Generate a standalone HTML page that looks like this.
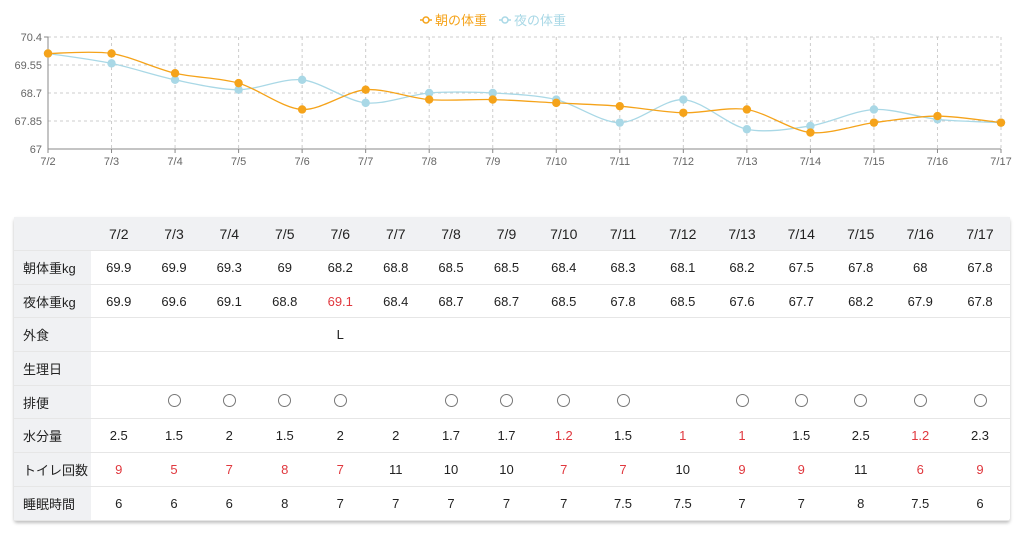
<!DOCTYPE html>
<html><head><meta charset="utf-8">
<style>
body{margin:0;width:1024px;height:533px;background:#fff;overflow:hidden;font-family:"Liberation Sans","Noto Sans CJK JP",sans-serif;}
#chart{position:absolute;left:0;top:0;}
#tbl{position:absolute;left:14px;top:217px;width:996px;border-collapse:collapse;table-layout:fixed;font-size:13px;color:#222;box-shadow:0 2px 3px rgba(0,0,0,0.25);border-radius:3px;}
#tbl td,#tbl th{text-align:center;border-bottom:1px solid #e6e6e6;padding:0;height:32.7px;}
#tbl thead th{background:#f0f1f3;font-weight:normal;height:33px;font-size:14px;}
#tbl td.h{background:#f0f1f3;text-align:left;padding-left:9px;}
.r{color:#e0383e;}
.o{display:inline-block;width:11px;height:11px;border:1px solid #777;border-radius:50%;}
</style></head><body>
<svg id="chart" width="1024" height="170"></svg>
<table id="tbl">
<colgroup id="cg"></colgroup>
<thead><tr id="hdr"></tr></thead>
<tbody id="body"></tbody>
</table>
<script>
const dates=["7/2","7/3","7/4","7/5","7/6","7/7","7/8","7/9","7/10","7/11","7/12","7/13","7/14","7/15","7/16","7/17"];
const morning=[69.9,69.9,69.3,69,68.2,68.8,68.5,68.5,68.4,68.3,68.1,68.2,67.5,67.8,68,67.8];
const night=[69.9,69.6,69.1,68.8,69.1,68.4,68.7,68.7,68.5,67.8,68.5,67.6,67.7,68.2,67.9,67.8];
const yTicks=[67,67.85,68.7,69.55,70.4];
const NS="http://www.w3.org/2000/svg";
const svg=document.getElementById('chart');
const x0=48,x1=1001,yTop=37,yBot=149,yMin=67,yMax=70.4;
const xs=i=>x0+i*(x1-x0)/(dates.length-1);
const ys=v=>yBot-(v-yMin)/(yMax-yMin)*(yBot-yTop);
function mk(t,a){const e=document.createElementNS(NS,t);for(const k in a)e.setAttribute(k,a[k]);svg.appendChild(e);return e;}
yTicks.forEach((t,i)=>{
 if(i>0){const g=mk('line',{x1:x0,x2:x1,y1:ys(t),y2:ys(t),stroke:'#ccc','stroke-dasharray':'3,3'});
 
 }
 const l=mk('text',{x:x0-6,y:ys(t)+4,'text-anchor':'end','font-size':'11',fill:'#666','font-family':'Liberation Sans'});
 l.textContent=t;
 
 
});
dates.forEach((d,i)=>{
 if(i>0){const g=mk('line',{x1:xs(i),x2:xs(i),y1:yTop,y2:yBot,stroke:'#ccc','stroke-dasharray':'3,3'});
 
 }
 mk('line',{x1:xs(i),x2:xs(i),y1:yBot,y2:yBot+4,stroke:'#888'});
 const l=mk('text',{x:xs(i),y:yBot+16,'text-anchor':'middle','font-size':'11',fill:'#666','font-family':'Liberation Sans'});
 l.textContent=d;
 
 
});
const ax=mk('path',{d:`M${x0-4},${yTop}H${x0}V${yBot}H${x1}`,stroke:'#888',fill:'none'});


function curve(vals){const p=vals.map((v,i)=>[xs(i),ys(v)]);let d=`M${p[0][0]},${p[0][1]}`;
 for(let i=0;i<p.length-1;i++){const a=p[Math.max(i-1,0)],b=p[i],c=p[i+1],e=p[Math.min(i+2,p.length-1)];const t=0.15;
 d+=`C${b[0]+(c[0]-a[0])*t},${b[1]+(c[1]-a[1])*t} ${c[0]-(e[0]-b[0])*t},${c[1]-(e[1]-b[1])*t} ${c[0]},${c[1]}`;}return d;}
function series(vals,col,name){
 const p=mk('path',{d:curve(vals),stroke:col,fill:'none','stroke-width':'1.3'});
 
 
 vals.forEach((v,i)=>{const c=mk('circle',{cx:xs(i),cy:ys(v),r:4.2,fill:col});
 
 });
}
series(night,'#a9d8e6','night-weight');
series(morning,'#f5a31a','morning-weight');
function legend(x,col,txt,name){
 mk('line',{x1:x,x2:x+12,y1:20,y2:20,stroke:col,'stroke-width':'1.5'});
 mk('circle',{cx:x+6,cy:20,r:3,fill:'#fff',stroke:col,'stroke-width':'1.5'});
 const t=mk('text',{x:x+15,y:25,'font-size':'13',fill:col,'font-family':'Liberation Sans, Noto Sans CJK JP, sans-serif'});
 t.textContent=txt;
 
 
}
legend(420,'#f5a31a','朝の体重','legend-morning');
legend(499,'#a9d8e6','夜の体重','legend-night');

const centers=[119,174,229,285,340,396,451,506,563,623,683,742,801,861,920,980];
const cg=document.getElementById('cg');
let prev=91;const c0=document.createElement('col');c0.style.width=(91-14)+'px';cg.appendChild(c0);
centers.forEach((c,i)=>{const nb=i<centers.length-1?(c+centers[i+1])/2:1010;const col=document.createElement('col');col.style.width=(nb-prev)+'px';prev=nb;cg.appendChild(col);});
const hdr=document.getElementById('hdr');
hdr.innerHTML='<th></th>'+dates.map(d=>`<th>${d}</th>`).join('');
const O='<span class="o"></span>';
const rows=[
['朝体重kg',morning.map(String),[]],
['夜体重kg',night.map(String),[4]],
['外食',['','','','','L','','','','','','','','','','',''],[]],
['生理日',Array(16).fill(''),[]],
['排便',['',O,O,O,O,'',O,O,O,O,'',O,O,O,O,O],[]],
['水分量',['2.5','1.5','2','1.5','2','2','1.7','1.7','1.2','1.5','1','1','1.5','2.5','1.2','2.3'],[8,10,11,14]],
['トイレ回数',['9','5','7','8','7','11','10','10','7','7','10','9','9','11','6','9'],[0,1,2,3,4,8,9,11,12,14,15]],
['睡眠時間',['6','6','6','8','7','7','7','7','7','7.5','7.5','7','7','8','7.5','6'],[]]
];
const body=document.getElementById('body');
rows.forEach(r=>{body.insertAdjacentHTML('beforeend','<tr><td class="h">'+r[0]+'</td>'+r[1].map((v,i)=>`<td${r[2].includes(i)?' class="r"':''}>${v}</td>`).join('')+'</tr>');});
</script>
</body></html>
